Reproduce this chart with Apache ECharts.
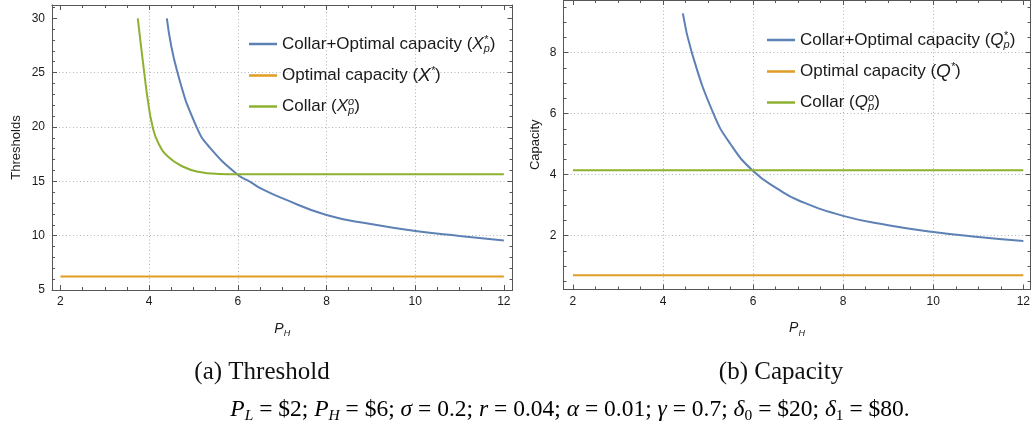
<!DOCTYPE html>
<html><head><meta charset="utf-8">
<script src="https://cdn.jsdelivr.net/npm/echarts@6/dist/echarts.min.js"></script>
<style>html,body{margin:0;padding:0;background:#fff}#c{width:1033px;height:432px}</style>
</head><body><div id="c"></div><script>
// ---------- data ----------
const xTicks = [2, 4, 6, 8, 10, 12];
const xGridLines = [4, 6, 8, 10];
const thrYTicks = [5, 10, 15, 20, 25, 30];
const thrYGridLines = [10, 15, 20, 25];
const capYTicks = [2, 4, 6, 8];
const capYGridLines = [2, 4, 6, 8];

// (a) Threshold
const thrBlueX = [4.40, 4.64, 5.07, 5.37, 6.00, 6.28, 6.54, 7.00, 8.00, 9.00, 10.00, 11.00, 12.00];
const thrBlueY = [30.0, 25.0, 20.0, 18.1, 15.6, 14.95, 14.3, 13.45, 11.9, 11.07, 10.43, 9.97, 9.55];
const thrOrangeX = [2, 12];
const thrOrangeY = [6.25, 6.25];
const thrGreenX = [3.744, 3.81, 3.89, 3.97, 4.08, 4.21, 4.43, 4.77, 5.11, 5.56, 6.00, 12.00];
const thrGreenY = [30.0, 27.7, 25.0, 22.5, 20.0, 18.5, 17.26, 16.34, 15.88, 15.68, 15.65, 15.65];

// (b) Capacity
const capBlueX = [4.44, 4.64, 5.12, 5.49, 6.00, 6.59, 7.00, 8.00, 9.00, 10.00, 11.00, 12.00];
const capBlueY = [9.29, 8.00, 6.00, 5.02, 4.12, 3.49, 3.16, 2.645, 2.34, 2.12, 1.955, 1.82];
const capOrangeX = [2, 12];
const capOrangeY = [0.70, 0.70];
const capGreenX = [2, 12];
const capGreenY = [4.14, 4.14];

const seriesNames = {
  thrBlue: 'Collar+Optimal capacity (Xp*)',
  thrOrange: 'Optimal capacity (X*)',
  thrGreen: 'Collar (Xpo)',
  capBlue: 'Collar+Optimal capacity (Qp*)',
  capOrange: 'Optimal capacity (Q*)',
  capGreen: 'Collar (Qpo)'
};
const legendRich = {
  'Collar+Optimal capacity (Xp*)': '{n|Collar+Optimal capacity (}{it|X}{sp0|*}{sb|p}{n|)}',
  'Optimal capacity (X*)': '{n|Optimal capacity (}{itL|X}{sp|*}{n|)}',
  'Collar (Xpo)': '{n|Collar (}{it|X}{sp0|o}{sb|p}{n|)}',
  'Collar+Optimal capacity (Qp*)': '{n|Collar+Optimal capacity (}{it|Q}{sp0|*}{sb|p}{n|)}',
  'Optimal capacity (Q*)': '{n|Optimal capacity (}{itL|Q}{sp|*}{n|)}',
  'Collar (Qpo)': '{n|Collar (}{it|Q}{sp0|o}{sb|p}{n|)}'
};

// ---------- styling ----------
const BLUE = '#5E81B5', ORANGE = '#E19C24', GREEN = '#8FB131';
const FRAME = '#555555';
const SANS = '"Liberation Sans", Arial, sans-serif';
const SERIF = '"Liberation Serif", "Times New Roman", serif';

function minorTicks(lo, hi, step, majors) {
  const out = [];
  for (let v = lo; v <= hi + 1e-9; v += step) {
    const r = Math.round(v * 1000) / 1000;
    if (!majors.some(m => Math.abs(m - r) < 1e-6)) out.push(r);
  }
  return out;
}

const xAxes = [], yAxes = [];
function addAxis(list, o) {
  list.push({
    type: 'value', gridIndex: o.grid, position: o.pos, min: o.min, max: o.max,
    name: o.name || '', nameLocation: 'middle', nameGap: o.nameGap || 0, nameRotate: o.nameRotate,
    nameTextStyle: o.nameStyle || {},
    axisLine: { show: !!o.line, onZero: false, lineStyle: { color: FRAME, width: 1 } },
    axisTick: { show: !!o.ticks, inside: true, length: o.len || 5, customValues: o.ticks || o.split || [],
                lineStyle: { color: FRAME, width: 1 } },
    axisLabel: { show: !!o.labels, customValues: o.labels || [], fontFamily: SANS, fontSize: 12,
                 color: '#1a1a1a', margin: o.margin || 6 },
    splitLine: { show: !!o.split, lineStyle: { color: '#b4b4b4', width: 1, type: [1, 2.5] } },
    axisPointer: { show: false }
  });
  return list.length - 1;
}

function buildFrame(grid, xr, yr, yTicks, yMinor, yGrid, yName, yNameGap) {
  const xMinor = minorTicks(2, 12, 0.5, xTicks);
  const xName = '{i|P}{s|H}';
  const xNameStyle = { rich: {
    i: { fontFamily: SANS, fontStyle: 'italic', fontSize: 14, color: '#1a1a1a', lineHeight: 18 },
    s: { fontFamily: SANS, fontStyle: 'italic', fontSize: 9, color: '#1a1a1a', verticalAlign: 'bottom', lineHeight: 12 }
  } };
  addAxis(xAxes, { grid, pos: 'bottom', min: xr[0], max: xr[1], split: xGridLines });
  addAxis(yAxes, { grid, pos: 'left', min: yr[0], max: yr[1], split: yGrid });
  const xi = addAxis(xAxes, { grid, pos: 'bottom', min: xr[0], max: xr[1], line: true, ticks: xTicks, labels: xTicks,
    name: xName, nameGap: 30, nameStyle: xNameStyle });
  addAxis(xAxes, { grid, pos: 'bottom', min: xr[0], max: xr[1], ticks: xMinor, len: 3 });
  addAxis(xAxes, { grid, pos: 'top', min: xr[0], max: xr[1], line: true, ticks: xTicks });
  addAxis(xAxes, { grid, pos: 'top', min: xr[0], max: xr[1], ticks: xMinor, len: 3 });
  const yi = addAxis(yAxes, { grid, pos: 'left', min: yr[0], max: yr[1], line: true, ticks: yTicks, labels: yTicks,
    margin: 7, name: yName, nameGap: yNameGap, nameRotate: 90,
    nameStyle: { fontFamily: SANS, fontSize: 13, color: '#1a1a1a' } });
  addAxis(yAxes, { grid, pos: 'left', min: yr[0], max: yr[1], ticks: yMinor, len: 3 });
  addAxis(yAxes, { grid, pos: 'right', min: yr[0], max: yr[1], line: true, ticks: yTicks });
  addAxis(yAxes, { grid, pos: 'right', min: yr[0], max: yr[1], ticks: yMinor, len: 3 });
  return [xi, yi];
}

const [ax0, ay0] = buildFrame(0, [1.81, 12.195], [5, 31.22], thrYTicks, minorTicks(5, 31, 1, thrYTicks), thrYGridLines, 'Thresholds', 29);
const [ax1, ay1] = buildFrame(1, [1.79, 12.16], [0.23, 9.73], capYTicks, minorTicks(0.5, 9.5, 0.5, capYTicks), capYGridLines, 'Capacity', 22);

function zip(xs, ys) { return xs.map((x, i) => [x, ys[i]]); }
function line(name, xs, ys, color, xi, yi) {
  return { type: 'line', name, data: zip(xs, ys), xAxisIndex: xi, yAxisIndex: yi,
    symbol: 'none', showSymbol: false, smooth: 0.5, clip: true,
    lineStyle: { color, width: 2 }, itemStyle: { color }, emphasis: { disabled: true } };
}

const legendText = {
  n: { fontFamily: SANS, fontSize: 17, color: '#1a1a1a', lineHeight: 20 },
  it: { fontFamily: SANS, fontStyle: 'italic', fontSize: 17, color: '#1a1a1a', lineHeight: 20 },
  itL: { fontFamily: SANS, fontStyle: 'italic', fontSize: 19, color: '#1a1a1a', lineHeight: 20 },
  sp: { fontFamily: SANS, fontStyle: 'italic', fontSize: 11, color: '#1a1a1a', verticalAlign: 'top', lineHeight: 11 },
  sp0: { fontFamily: SANS, fontStyle: 'italic', fontSize: 11, color: '#1a1a1a', verticalAlign: 'top', lineHeight: 11, width: 0 },
  sb: { fontFamily: SANS, fontStyle: 'italic', fontSize: 11, color: '#1a1a1a', verticalAlign: 'bottom', lineHeight: 10 }
};
function legend(left, top, names) {
  return { left, top, orient: 'vertical', icon: 'rect', itemWidth: 28, itemHeight: 2.5, itemGap: 11.5,
    selectedMode: false, data: names, formatter: nm => legendRich[nm],
    textStyle: { rich: legendText } };
}

const serifRich = {
  n: { fontFamily: SERIF, fontSize: 23.5, color: '#111', lineHeight: 28 },
  i: { fontFamily: SERIF, fontStyle: 'italic', fontSize: 23.5, color: '#111', lineHeight: 28 },
  g: { fontFamily: SERIF, fontStyle: 'italic', fontSize: 23.5, color: '#111', lineHeight: 28 },
  s: { fontFamily: SERIF, fontStyle: 'italic', fontSize: 15.5, color: '#111', verticalAlign: 'bottom', lineHeight: 22 },
  s0: { fontFamily: SERIF, fontSize: 15.5, color: '#111', verticalAlign: 'bottom', lineHeight: 22 }
};
const formula = '{i|P}{s|L}{n| = $2; }{i|P}{s|H}{n| = $6; }{g|σ}{n| = 0.2; }{i|r}{n| = 0.04; }{g|α}{n| = 0.01; }' +
  '{g|γ}{n| = 0.7; }{g|δ}{s0|0}{n| = $20; }{g|δ}{s0|1}{n| = $80.}';

const option = {
  animation: false,
  backgroundColor: '#ffffff',
  grid: [
    { left: 52, top: 5, width: 460.5, height: 285, containLabel: false },
    { left: 563.5, top: 0, width: 467.5, height: 289.5, containLabel: false }
  ],
  xAxis: xAxes,
  yAxis: yAxes,
  legend: [
    legend(244, 29, [seriesNames.thrBlue, seriesNames.thrOrange, seriesNames.thrGreen]),
    legend(762, 25, [seriesNames.capBlue, seriesNames.capOrange, seriesNames.capGreen])
  ],
  series: [
    line(seriesNames.thrBlue, thrBlueX, thrBlueY, BLUE, ax0, ay0),
    line(seriesNames.thrOrange, thrOrangeX, thrOrangeY, ORANGE, ax0, ay0),
    line(seriesNames.thrGreen, thrGreenX, thrGreenY, GREEN, ax0, ay0),
    line(seriesNames.capBlue, capBlueX, capBlueY, BLUE, ax1, ay1),
    line(seriesNames.capOrange, capOrangeX, capOrangeY, ORANGE, ax1, ay1),
    line(seriesNames.capGreen, capGreenX, capGreenY, GREEN, ax1, ay1)
  ],
  graphic: [
    { type: 'text', x: 262, y: 372, style: { text: '(a) Threshold', fontFamily: SERIF, fontSize: 25, fill: '#111', align: 'center', verticalAlign: 'middle' } },
    { type: 'text', x: 781, y: 372, style: { text: '(b) Capacity', fontFamily: SERIF, fontSize: 25, fill: '#111', align: 'center', verticalAlign: 'middle' } },
    { type: 'text', x: 570, y: 410, style: { text: formula, rich: serifRich, align: 'center', verticalAlign: 'middle' } }
  ]
};

echarts.init(document.getElementById('c'), null, { renderer: 'canvas' }).setOption(option);
</script></body></html>
